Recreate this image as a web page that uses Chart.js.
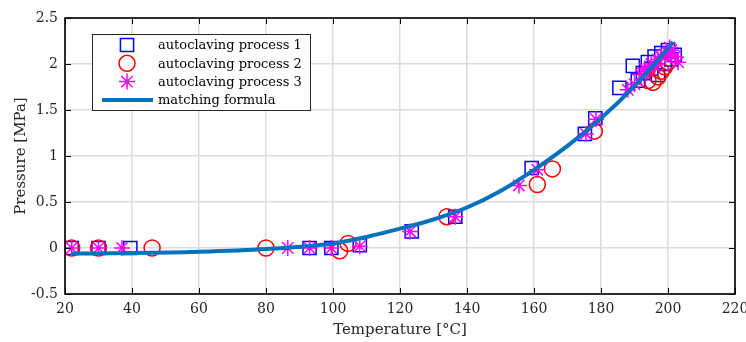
<!DOCTYPE html>
<html>
<head>
<meta charset="utf-8">
<script src="https://cdn.jsdelivr.net/npm/chart.js@4.4.0/dist/chart.umd.min.js"></script>
<style>
  html, body { margin: 0; padding: 0; background: #fff; }
  #wrap { width: 746px; height: 342px; }
</style>
</head>
<body>
<div id="wrap"><canvas id="chart" width="746" height="342"></canvas></div>
<script>
// autoclaving process 1 (squares)
const temp1 = [22, 30, 39.5, 93, 99.5, 108, 123.5, 136.5, 159.3, 175.2, 178.3,
  185.5, 189.5, 191, 192.5, 194, 195, 196, 197, 198, 199, 200, 201, 202];
const pres1 = [0, 0, 0, 0, 0, 0.03, 0.18, 0.34, 0.87, 1.24, 1.41,
  1.74, 1.98, 1.82, 1.90, 2.02, 1.95, 2.08, 1.88, 2.12, 2.00, 2.15, 2.05, 2.10];

// autoclaving process 2 (circles)
const temp2 = [22, 30, 46, 80, 102, 104.5, 134, 161, 165.5, 178,
  194, 195.5, 197, 198, 199, 200];
const pres2 = [0, 0, 0, 0, -0.03, 0.05, 0.34, 0.69, 0.86, 1.27,
  1.82, 1.80, 1.86, 1.92, 1.97, 2.02];

// autoclaving process 3 (asterisks)
const temp3 = [22, 30, 37, 86.5, 93, 99.5, 108, 123, 136.5, 155.5, 161, 175.5, 178.5,
  188, 190, 192, 193, 194, 195, 196, 197, 198, 199, 200, 200.5, 201, 202, 203];
const pres3 = [0, 0, 0, 0, 0, 0, 0.02, 0.18, 0.34, 0.68, 0.85, 1.24, 1.40,
  1.72, 1.78, 1.88, 1.95, 1.92, 2.00, 1.98, 2.05, 2.08, 2.10, 2.12, 2.18, 2.15, 2.08, 2.02];

// matching formula
const tempFit = [22, 40, 60, 80, 100, 110, 120, 130, 140, 150, 160, 170, 180, 190, 200, 201.5];
const presFit = [-0.06, -0.055, -0.04, -0.01, 0.05, 0.12, 0.21, 0.31, 0.44, 0.62, 0.85, 1.11, 1.41, 1.76, 2.17, 2.24];

const xTicks = [20, 40, 60, 80, 100, 120, 140, 160, 180, 200, 220];
const yTicks = [-0.5, 0, 0.5, 1, 1.5, 2, 2.5];

const toPoints = (xs, ys) => xs.map((x, i) => ({ x: x, y: ys[i] }));

const FONT = 'DejaVu Serif';
const TEXT = '#262626';

// MATLAB style box with inward ticks
const axesBox = {
  id: 'axesBox',
  afterDraw(chart) {
    const ctx = chart.ctx;
    const a = chart.chartArea;
    const xs = chart.scales.x, ys = chart.scales.y;
    const len = 6;
    ctx.save();
    ctx.strokeStyle = '#000';
    ctx.lineWidth = 1;
    ctx.beginPath();
    xTicks.forEach(v => {
      const px = Math.round(xs.getPixelForValue(v)) + 0.5;
      ctx.moveTo(px, a.bottom); ctx.lineTo(px, a.bottom - len);
      ctx.moveTo(px, a.top); ctx.lineTo(px, a.top + len);
    });
    yTicks.forEach(v => {
      const py = Math.round(ys.getPixelForValue(v)) + 0.5;
      ctx.moveTo(a.left, py); ctx.lineTo(a.left + len, py);
      ctx.moveTo(a.right, py); ctx.lineTo(a.right - len, py);
    });
    ctx.stroke();
    ctx.lineWidth = 1.6;
    ctx.strokeRect(a.left, a.top, a.right - a.left, a.bottom - a.top);
    ctx.restore();
  }
};

// legend box inside the plot, upper left
const legendBox = {
  id: 'legendBox',
  afterDraw(chart) {
    const ctx = chart.ctx;
    const a = chart.chartArea;
    const x0 = a.left + 27, y0 = a.top + 16, w = 218, h = 76;
    ctx.save();
    ctx.fillStyle = '#fff';
    ctx.fillRect(x0, y0, w, h);
    ctx.strokeStyle = '#262626';
    ctx.lineWidth = 1;
    ctx.strokeRect(x0 + 0.5, y0 + 0.5, w, h);
    ctx.font = '13px "' + FONT + '"';
    ctx.textBaseline = 'middle';
    chart.data.datasets.forEach((ds, i) => {
      const cy = y0 + 11 + i * 18.3;
      const mx = x0 + 35;
      ctx.save();
      ctx.strokeStyle = ds.borderColor;
      ctx.fillStyle = 'rgba(0,0,0,0)';
      if (ds.showLine) {
        ctx.lineWidth = ds.borderWidth;
        ctx.beginPath();
        ctx.moveTo(x0 + 10, cy);
        ctx.lineTo(x0 + 61, cy);
        ctx.stroke();
      } else {
        ctx.lineWidth = ds.pointBorderWidth;
        Chart.helpers.drawPoint(ctx, {
          pointStyle: ds.pointStyle, radius: ds.pointRadius,
          borderWidth: ds.pointBorderWidth, rotation: 0
        }, mx, cy);
      }
      ctx.restore();
      ctx.fillStyle = '#000';
      ctx.fillText(ds.label, x0 + 66, cy + 1);
    });
    ctx.restore();
  }
};

new Chart(document.getElementById('chart'), {
  type: 'scatter',
  data: {
    datasets: [
      {
        label: 'autoclaving process 1',
        data: toPoints(temp1, pres1),
        pointStyle: 'rect', pointRadius: 9.3, pointBorderWidth: 1.5,
        borderColor: '#0000ff', backgroundColor: 'rgba(0,0,0,0)',
        showLine: false, order: 3
      },
      {
        label: 'autoclaving process 2',
        data: toPoints(temp2, pres2),
        pointStyle: 'circle', pointRadius: 8, pointBorderWidth: 1.5,
        borderColor: '#ff0000', backgroundColor: 'rgba(0,0,0,0)',
        showLine: false, order: 2
      },
      {
        label: 'autoclaving process 3',
        data: toPoints(temp3, pres3),
        pointStyle: 'star', pointRadius: 8, pointBorderWidth: 1.5,
        borderColor: '#ff00ff', backgroundColor: 'rgba(0,0,0,0)',
        showLine: false, order: 1
      },
      {
        label: 'matching formula',
        data: toPoints(tempFit, presFit),
        showLine: true, borderColor: '#0072bd', borderWidth: 4,
        pointRadius: 0, cubicInterpolationMode: 'monotone', order: 0
      }
    ]
  },
  options: {
    responsive: false,
    animation: false,
    layout: { padding: { top: 18, right: 11, left: 0, bottom: 0 } },
    plugins: {
      legend: { display: false },
      tooltip: { enabled: false }
    },
    scales: {
      x: {
        type: 'linear', min: 20, max: 220,
        afterBuildTicks: s => { s.ticks = xTicks.map(v => ({ value: v })); },
        afterFit: s => { s.height = 48; s.paddingLeft = 0; s.paddingRight = 0; },
        ticks: { color: TEXT, padding: 7, maxRotation: 0, font: { family: FONT, size: 14 },
          callback: v => String(v) },
        grid: { color: '#dcdcdc', lineWidth: 1.5, drawTicks: false },
        border: { display: false },
        title: { display: true, text: 'Temperature [°C]', color: TEXT,
          padding: { top: 0, bottom: 3 }, font: { family: FONT, size: 15 } }
      },
      y: {
        type: 'linear', min: -0.5, max: 2.5,
        afterBuildTicks: s => { s.ticks = yTicks.map(v => ({ value: v })); },
        afterFit: s => { s.width = 65; },
        ticks: { color: TEXT, padding: 7, font: { family: FONT, size: 14 },
          callback: v => String(v) },
        grid: { color: '#dcdcdc', lineWidth: 1.5, drawTicks: false },
        border: { display: false },
        title: { display: true, text: 'Pressure [MPa]', color: TEXT,
          padding: { top: 12, bottom: 0 }, font: { family: FONT, size: 15 } }
      }
    }
  },
  plugins: [axesBox, legendBox]
});
</script>
</body>
</html>
